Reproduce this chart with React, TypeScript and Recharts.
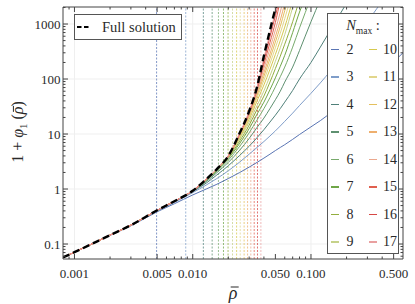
import React from "react";
import { LineChart, Line, XAxis, YAxis, ReferenceLine } from "recharts";

// sample points along rho-bar (shared by every curve)
const rho = [
  0.0008, 0.001, 0.002, 0.003, 0.005, 0.007, 0.01, 0.013, 0.016, 0.02, 0.025,
  0.03, 0.035, 0.04, 0.045, 0.05, 0.055, 0.06, 0.07, 0.08, 0.1, 0.12, 0.15,
  0.2, 0.3, 0.4, 0.6,
];

const fullSolution = [
  0.057, 0.071, 0.145, 0.22, 0.41, 0.6, 0.93, 1.5, 2.3, 4.0, 10.5, 26, 72, 265,
  770, 1880, 3600,
];

const nMax = [2, 3, 4, 5, 6, 7, 8, 9, 10, 11, 12, 13, 14, 15, 16, 17];

const nColors = [
  "#5a75b4", "#7f9dc9", "#4f8079", "#5e9070", "#78aa6c", "#6fa648",
  "#93ae3e", "#c6d28a", "#d6c94e", "#e2d68c", "#e4c05e", "#eeaf6e",
  "#eba88e", "#e0604f", "#d64845", "#e9a0a0",
];

// where each truncation starts to fail (dotted verticals)
const nCutoff = [
  0.00495, 0.00873, 0.0123, 0.0146, 0.0165, 0.0182, 0.0199, 0.0217, 0.0235,
  0.0252, 0.0272, 0.0291, 0.031, 0.0331, 0.0353, 0.0377,
];

const n2 = [0.057, 0.071, 0.143, 0.214, 0.385, 0.54, 0.78, 1.0, 1.22, 1.55, 2.0, 2.5, 3.05, 3.65, 4.3, 5.0, 5.7, 6.4, 8.0, 9.8, 13.5, 17.5, 25, 38, 75, 130, 300];
const n3 = [0.057, 0.071, 0.145, 0.217, 0.395, 0.57, 0.86, 1.18, 1.55, 2.15, 3.1, 4.3, 5.7, 7.3, 9.2, 11.4, 14, 17, 24, 33, 55, 85, 150, 330, 1100, 2600];
const n4 = [0.057, 0.071, 0.145, 0.22, 0.405, 0.59, 0.9, 1.28, 1.8, 2.65, 4.1, 6.0, 8.6, 12, 16.5, 22, 29, 38, 62, 100, 200, 380, 850, 2400];
const n5 = [0.057, 0.071, 0.145, 0.22, 0.41, 0.6, 0.92, 1.36, 1.98, 3.05, 5.1, 8.3, 13.2, 19.5, 29, 42, 60, 88, 165, 330, 1100, 2800];
const n6 = [0.057, 0.071, 0.145, 0.22, 0.41, 0.6, 0.93, 1.42, 2.1, 3.35, 6.0, 10.5, 18, 29, 46, 72, 110, 165, 380, 850, 3000];
const n7 = [0.057, 0.071, 0.145, 0.22, 0.41, 0.6, 0.93, 1.45, 2.18, 3.6, 6.8, 12.5, 23, 38, 64, 105, 170, 270, 700, 1650, 5000];
const n8 = [0.057, 0.071, 0.145, 0.22, 0.41, 0.6, 0.93, 1.47, 2.24, 3.75, 7.5, 14.5, 28, 49, 88, 155, 260, 430, 1100, 2800];
const n9 = [0.057, 0.071, 0.145, 0.22, 0.41, 0.6, 0.93, 1.48, 2.27, 3.85, 8.2, 16.5, 33, 61, 114, 210, 370, 640, 2000, 5000];
const n10 = [0.057, 0.071, 0.145, 0.22, 0.41, 0.6, 0.93, 1.49, 2.29, 3.9, 8.7, 18.5, 40, 78, 150, 280, 500, 880, 2700];
const n11 = [0.057, 0.071, 0.145, 0.22, 0.41, 0.6, 0.93, 1.5, 2.3, 3.95, 9.1, 20, 46, 95, 190, 370, 680, 1250, 4000];
const n12 = [0.057, 0.071, 0.145, 0.22, 0.41, 0.6, 0.93, 1.5, 2.3, 3.97, 9.4, 21.5, 51, 112, 235, 470, 900, 1750, 5000];
const n13 = [0.057, 0.071, 0.145, 0.22, 0.41, 0.6, 0.93, 1.5, 2.3, 3.98, 9.7, 22.5, 56, 130, 285, 590, 1170, 2400];
const n14 = [0.057, 0.071, 0.145, 0.22, 0.41, 0.6, 0.93, 1.5, 2.3, 4.0, 9.9, 23.5, 61, 155, 360, 780, 1650, 3600];
const n15 = [0.057, 0.071, 0.145, 0.22, 0.41, 0.6, 0.93, 1.5, 2.3, 4.0, 10.1, 24.5, 65, 185, 460, 1070, 2700];
const n16 = [0.057, 0.071, 0.145, 0.22, 0.41, 0.6, 0.93, 1.5, 2.3, 4.0, 10.3, 25, 68, 215, 590, 1420, 3300];
const n17 = [0.057, 0.071, 0.145, 0.22, 0.41, 0.6, 0.93, 1.5, 2.3, 4.0, 10.4, 25.5, 70, 240, 680, 1650, 3500];

const nSeries = [n2, n3, n4, n5, n6, n7, n8, n9, n10, n11, n12, n13, n14, n15, n16, n17];

const xMajor = [0.001, 0.005, 0.01, 0.05, 0.1, 0.5];
const xMinor = [0.0009, 0.002, 0.003, 0.004, 0.006, 0.007, 0.008, 0.009, 0.02, 0.03, 0.04, 0.06, 0.07, 0.08, 0.09, 0.2, 0.3, 0.4];
const yMajor = [0.1, 1, 10, 100, 1000];
const yMinor = [0.06, 0.07, 0.08, 0.09, 0.2, 0.3, 0.4, 0.5, 0.6, 0.7, 0.8, 0.9, 2, 3, 4, 5, 6, 7, 8, 9, 20, 30, 40, 50, 60, 70, 80, 90, 200, 300, 400, 500, 600, 700, 800, 900, 2000];
const xGrid = [0.001, 0.01, 0.1];
const yGrid = [0.1, 1, 10, 100, 1000];

const xDomain = [0.0008, 0.6];
const yDomain = [0.0534, 2040];

const FONT = "Liberation Serif, Times New Roman, DejaVu Serif, serif";
const AXIS = "#444";
const TEXT = "#2a2a2a";

const toPoints = (vals: number[]) => vals.map((y, i) => ({ x: rho[i], y }));

const isMajor = (v: number, majors: number[]) =>
  majors.some((m) => Math.abs(m - v) / m < 1e-6);

const makeTick =
  (side: "bottom" | "top" | "left" | "right", majors: number[], fmt?: (v: number) => string) =>
  (props: any) => {
    const { x, y, payload } = props;
    const v = payload.value;
    const major = isMajor(v, majors);
    const len = major ? 5 : 2.5;
    let line;
    if (side === "bottom") line = <line x1={x} x2={x} y1={y} y2={y - len} stroke={AXIS} />;
    else if (side === "top") line = <line x1={x} x2={x} y1={y} y2={y + len} stroke={AXIS} />;
    else if (side === "left") line = <line x1={x} x2={x + len} y1={y} y2={y} stroke={AXIS} />;
    else line = <line x1={x} x2={x - len} y1={y} y2={y} stroke={AXIS} />;
    return (
      <g>
        {line}
        {major && fmt && side === "bottom" && (
          <text x={x} y={y + 18.5} textAnchor="middle" fontSize={13} style={{ fontFamily: FONT }} fill={TEXT}>
            {fmt(v)}
          </text>
        )}
        {major && fmt && side === "left" && (
          <text x={x - 2.5} y={y + 4.5} textAnchor="end" fontSize={13} style={{ fontFamily: FONT }} fill={TEXT}>
            {fmt(v)}
          </text>
        )}
      </g>
    );
  };

const fmtX = (v: number) => v.toFixed(3);
const fmtY = (v: number) => (v < 1 ? String(v) : String(Math.round(v)));

const xTicks = [...xMajor, ...xMinor].sort((a, b) => a - b);
const yTicks = [...yMajor, ...yMinor].sort((a, b) => a - b);

// rho with a bar above it
const RhoBar = () => (
  <span style={{ position: "relative", display: "inline-block", fontStyle: "italic" }}>
    ρ
    <span
      style={{
        position: "absolute", left: "0.12em", top: "0.22em", width: "0.42em",
        height: 1, background: TEXT,
      }}
    />
  </span>
);

const LegendFull = () => (
  <div
    style={{
      position: "absolute", left: 74, top: 14, width: 108, height: 26,
      boxSizing: "border-box", border: "1px solid #555", background: "#fff",
      display: "flex", alignItems: "center", fontSize: 14.5, color: TEXT,
    }}
  >
    <svg width={24} height={8} style={{ marginLeft: 1 }}>
      <line x1={1} x2={13} y1={4} y2={4} stroke="#000" strokeWidth={2.2} strokeDasharray="4.5 2.5" />
    </svg>
    <span style={{ marginLeft: 2 }}>Full solution</span>
  </div>
);

const LegendN = () => {
  const half = nMax.length / 2;
  return (
    <div
      style={{
        position: "absolute", left: 327, top: 13, width: 72, height: 241,
        boxSizing: "border-box", border: "1px solid #555", background: "#fff",
        fontSize: 14, color: TEXT,
      }}
    >
      <div style={{ position: "absolute", left: 0, width: 70, top: 3, textAlign: "center", fontSize: 14.5 }}>
        <i>N</i>
        <sub style={{ fontSize: 9.5 }}>max</sub> :
      </div>
      {nMax.map((n, i) => {
        const col = i < half ? 0 : 1;
        const row = i % half;
        const cy = 35.5 + row * 27.5;
        return (
          <React.Fragment key={n}>
            <div
              style={{
                position: "absolute", left: col ? 41 : 3, top: cy - 0.75, width: 8,
                height: 1.5, background: nColors[i],
              }}
            />
            <div
              style={{
                position: "absolute", left: col ? 55 : 18, top: cy - 9, width: col ? 16 : 8,
                textAlign: col ? "left" : "center", lineHeight: "18px",
              }}
            >
              {n}
            </div>
          </React.Fragment>
        );
      })}
    </div>
  );
};

export default function App() {
  return (
    <div
      style={{
        position: "absolute", left: 0, top: 0, width: 415, height: 304,
        background: "#fff", fontFamily: FONT,
      }}
    >
      <LineChart width={415} height={304} margin={{ top: 6, right: 11, bottom: 0, left: 0 }}>
        <XAxis
          xAxisId="b" dataKey="x" type="number" scale="log" domain={xDomain}
          allowDataOverflow ticks={xTicks} interval={0} height={45}
          tickSize={0} tickMargin={0} tickLine={false} stroke={AXIS}
          tick={makeTick("bottom", xMajor, fmtX)}
        />
        <XAxis
          xAxisId="t" orientation="top" dataKey="x" type="number" scale="log" domain={xDomain}
          allowDataOverflow ticks={xTicks} interval={0} height={1}
          tickSize={0} tickMargin={0} tickLine={false} stroke={AXIS}
          tick={makeTick("top", xMajor)}
        />
        <YAxis
          yAxisId="l" type="number" scale="log" domain={yDomain} allowDataOverflow
          ticks={yTicks} interval={0} width={63} tickSize={0} tickMargin={0}
          tickLine={false} stroke={AXIS} tick={makeTick("left", yMajor, fmtY)}
        />
        <YAxis
          yAxisId="r" orientation="right" type="number" scale="log" domain={yDomain}
          allowDataOverflow ticks={yTicks} interval={0} width={1} tickSize={0}
          tickMargin={0} tickLine={false} stroke={AXIS} tick={makeTick("right", yMajor)}
        />

        {xGrid.map((v) => (
          <ReferenceLine key={"gx" + v} xAxisId="b" yAxisId="l" x={v} stroke="#efefef" />
        ))}
        {yGrid.map((v) => (
          <ReferenceLine key={"gy" + v} xAxisId="b" yAxisId="l" y={v} stroke="#efefef" />
        ))}

        {nCutoff.map((v, i) => (
          <ReferenceLine
            key={"c" + nMax[i]} xAxisId="b" yAxisId="l" x={v}
            stroke={nColors[i]} strokeOpacity={0.75} strokeDasharray="2 1.5"
          />
        ))}

        {nSeries.map((vals, i) => (
          <Line
            key={"n" + nMax[i]} xAxisId="b" yAxisId="l" data={toPoints(vals)}
            dataKey="y" type="monotone" stroke={nColors[i]} strokeWidth={1}
            dot={false} isAnimationActive={false}
          />
        ))}

        <Line
          xAxisId="b" yAxisId="l" data={toPoints(fullSolution)} dataKey="y"
          type="monotone" stroke="#000" strokeWidth={2.4} strokeDasharray="7 4"
          dot={false} isAnimationActive={false}
        />
      </LineChart>

      <LegendFull />
      <LegendN />

      <div
        style={{
          position: "absolute", left: 19, top: 132, transform: "translate(-50%, -50%) rotate(-90deg)",
          whiteSpace: "nowrap", fontSize: 16, color: TEXT,
        }}
      >
        1 + <i>φ</i>
        <sub style={{ fontSize: 11 }}>1</sub> (<RhoBar />)
      </div>
      <div
        style={{
          position: "absolute", left: 233, top: 293, transform: "translate(-50%, -50%)",
          fontSize: 18, color: TEXT,
        }}
      >
        <RhoBar />
      </div>
    </div>
  );
}
